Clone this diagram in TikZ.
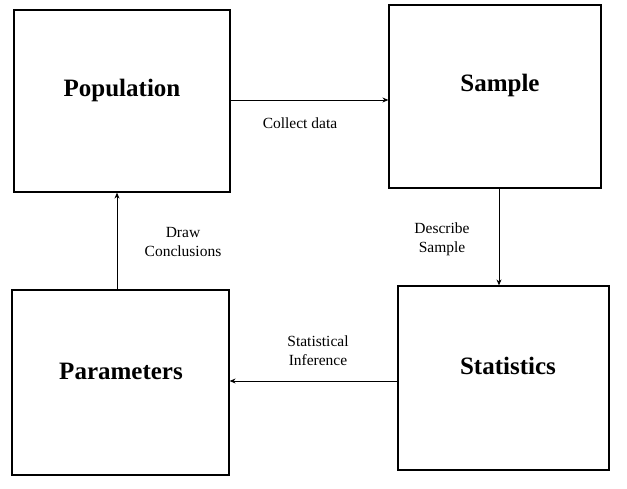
\documentclass[tikz,border=0pt]{standalone}
\usepackage{fontspec}
\setmainfont{Liberation Serif}
\usetikzlibrary{arrows.meta}
\begin{document}
\begin{tikzpicture}[x=1pt,y=-1pt,
  box/.style={draw,line width=1.2pt,inner sep=0pt},
  title/.style={font=\fontsize{25}{30}\selectfont\bfseries,inner sep=0pt},
  conn/.style={line width=0.9pt,-{Stealth[length=6pt,width=5pt]}},
  lbl/.style={font=\fontsize{15.5}{19}\selectfont,align=center,inner sep=0pt}]
\useasboundingbox (0,0) rectangle (627,488);
\node[box,minimum width=216pt,minimum height=182pt] (pop) at (122,101) {};
\node[box,minimum width=212pt,minimum height=183pt] (sam) at (495,96.5) {};
\node[box,minimum width=217pt,minimum height=185pt] (par) at (120.5,382.5) {};
\node[box,minimum width=211pt,minimum height=184pt] (sta) at (503.5,378) {};
\node[title] (popt) at (122,90) {Population};
\node[title] (samt) at (500,85) {Sample};
\node[title] (part) at (121,371) {Parameters};
\node[title] (stat) at (508,366) {Statistics};
\draw[conn] (pop.east |- 0,100) -- (sam.west |- 0,100);
\draw[conn] (sam.south -| 499,0) -- (sta.north -| 499,0);
\draw[conn] (sta.west |- 0,381) -- (par.east |- 0,381);
\draw[conn] (par.north -| 117,0) -- (pop.south -| 117,0);
\node[lbl] (l1) at (300,123) {Collect data};
\node[lbl] (l2) at (183,242) {Draw\\Conclusions};
\node[lbl] (l3) at (442,239) {Describe\\Sample};
\node[lbl] (l4) at (318,351) {Statistical\\Inference};
\end{tikzpicture}
\end{document}
